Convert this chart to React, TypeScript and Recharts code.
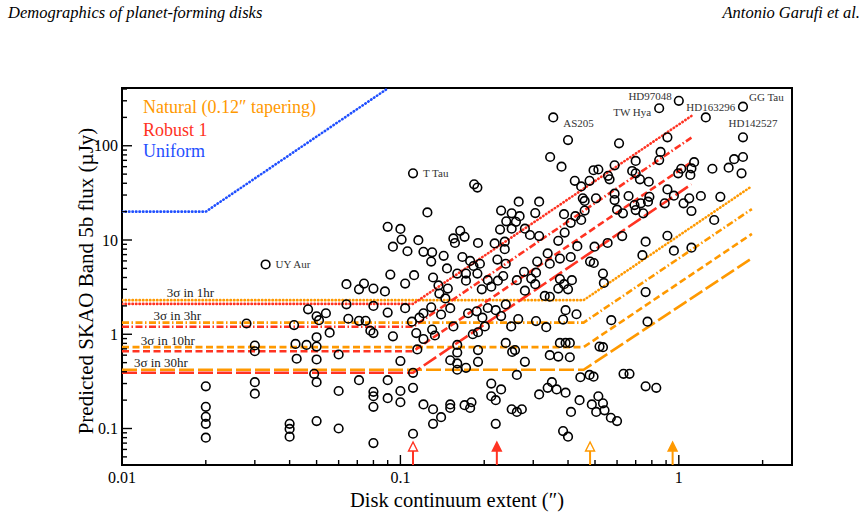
import React from "react";
import { ReferenceArea, ReferenceDot, Scatter, ScatterChart, XAxis, YAxis } from "recharts";

const serif = '"Liberation Serif", "DejaVu Serif", serif';
const orange = "#ff9900";
const red = "#ff3322";
const blue = "#1f4fff";

const xDomain: [number, number] = [0.01, 2.55];
const yDomain: [number, number] = [0.041, 410];
const xMajor = [0.01, 0.1, 1];
const xMinor = [0.02, 0.03, 0.04, 0.05, 0.06, 0.07, 0.08, 0.09, 0.2, 0.3, 0.4, 0.5, 0.6, 0.7, 0.8, 0.9, 2];
const yMajor = [0.1, 1, 10, 100];
const yMinor = [
  0.05, 0.06, 0.07, 0.08, 0.09, 0.2, 0.3, 0.4, 0.5, 0.6, 0.7, 0.8, 0.9,
  2, 3, 4, 5, 6, 7, 8, 9, 20, 30, 40, 50, 60, 70, 80, 90, 200, 300, 400,
];

// [continuum extent (arcsec), predicted flux (µJy)]
const disks: [number, number][] = [
  [0.02, 0.28], [0.02, 0.17], [0.02, 0.133], [0.02, 0.112], [0.02, 0.08],
  [0.028, 1.3], [0.03, 0.76], [0.03, 0.66], [0.03, 0.31], [0.03, 0.234],
  [0.04, 0.112], [0.04, 0.099], [0.04, 0.082], [0.0415, 1.25], [0.042, 0.79], [0.0424, 0.55],
  [0.046, 0.77], [0.0466, 1.84], [0.05, 1.55], [0.051, 1.41], [0.05, 0.93], [0.05, 0.74],
  [0.05, 0.54], [0.049, 0.38], [0.05, 0.31], [0.05, 0.12],
  [0.054, 1.67], [0.0557, 1.04], [0.06, 0.61], [0.06, 0.25], [0.06, 0.1],
  [0.064, 3.4], [0.064, 2.08], [0.065, 1.46], [0.071, 3.0], [0.071, 1.39], [0.071, 0.326],
  [0.074, 3.45], [0.075, 1.39], [0.078, 1.09], [0.08, 1.03], [0.08, 3.05], [0.08, 2.0],
  [0.08, 0.245], [0.08, 0.22], [0.08, 0.17], [0.08, 0.07],
  [0.088, 2.85], [0.09, 13.8], [0.092, 4.3], [0.09, 1.7], [0.09, 0.326], [0.09, 0.21],
  [0.094, 8.5], [0.094, 0.95], [0.1, 13.1], [0.101, 10.1], [0.1, 0.52], [0.1, 0.25], [0.1, 0.19],
  [0.104, 1.89], [0.104, 3.45], [0.106, 7.6], [0.112, 4.24], [0.116, 9.97],
  [0.111, 0.39], [0.111, 0.27], [0.111, 0.088], [0.11, 1.36], [0.114, 1.03], [0.115, 0.69],
  [0.117, 1.5], [0.121, 1.67], [0.121, 0.89], [0.121, 0.18], [0.121, 7.5], [0.125, 19.6],
  [0.13, 7.4], [0.129, 5.9], [0.131, 4.0], [0.137, 3.3], [0.129, 1.93], [0.13, 1.12], [0.133, 0.97],
  [0.131, 0.16], [0.131, 0.112], [0.14, 0.132], [0.138, 2.7],
  [0.184, 39], [0.189, 36], [0.266, 25.5], [0.315, 25.5], [0.23, 20.5], [0.251, 19.2],
  [0.268, 17.9], [0.305, 19.3], [0.24, 15.8], [0.26, 15.6], [0.228, 12.9], [0.251, 13.2],
  [0.28, 13.2], [0.292, 11.3], [0.315, 11.0], [0.164, 12.5], [0.155, 10.4], [0.17, 10.8],
  [0.157, 9.3], [0.19, 9.3], [0.218, 9.2], [0.237, 9.6], [0.237, 8.0],
  [0.143, 6.8], [0.167, 6.6], [0.147, 5.0], [0.178, 6.0], [0.183, 5.3], [0.193, 5.6],
  [0.223, 6.2], [0.239, 5.6], [0.16, 4.4], [0.172, 4.4], [0.189, 4.4], [0.172, 3.7],
  [0.206, 3.75], [0.234, 4.15], [0.262, 3.75], [0.278, 4.6], [0.295, 3.9], [0.305, 3.4],
  [0.31, 5.9], [0.148, 3.05], [0.196, 3.0], [0.212, 3.2], [0.224, 3.7], [0.28, 2.9],
  [0.145, 2.4], [0.151, 1.89], [0.14, 1.62], [0.155, 1.21], [0.175, 1.67], [0.188, 1.75],
  [0.197, 1.5], [0.206, 1.9], [0.22, 1.8], [0.239, 2.07], [0.23, 1.56], [0.201, 1.21],
  [0.182, 1.0], [0.19, 1.05], [0.25, 1.21], [0.265, 1.45], [0.307, 1.38],
  [0.16, 0.77], [0.16, 0.64], [0.151, 0.53], [0.16, 0.49], [0.16, 0.42], [0.172, 0.44],
  [0.19, 0.68], [0.19, 0.51], [0.239, 0.81], [0.252, 0.65], [0.258, 0.68], [0.28, 0.51],
  [0.262, 0.37], [0.212, 0.3], [0.23, 0.26], [0.212, 0.22], [0.22, 0.2],
  [0.151, 0.18], [0.151, 0.165], [0.17, 0.177], [0.18, 0.19], [0.178, 0.165],
  [0.251, 0.16], [0.262, 0.15], [0.273, 0.16], [0.22, 0.112], [0.315, 0.23],
  [0.4, 115], [0.61, 106], [0.345, 76], [0.379, 60], [0.494, 55], [0.514, 56], [0.588, 62],
  [0.7, 69], [0.68, 54], [0.557, 48], [0.423, 42.5], [0.478, 42.5], [0.564, 44], [0.7, 51],
  [0.725, 44], [0.446, 37], [0.452, 27.7], [0.459, 26], [0.504, 27.7], [0.588, 31],
  [0.66, 29.3], [0.588, 26.5], [0.693, 23.5], [0.73, 24.5], [0.387, 18.8], [0.425, 17.9],
  [0.459, 20.5], [0.446, 16.3], [0.409, 15.2], [0.63, 19.2], [0.6, 21], [0.7, 20.8], [0.745, 19.2],
  [0.389, 12], [0.369, 9.8], [0.626, 11], [0.555, 9.3], [0.432, 8.6], [0.498, 8.5], [0.74, 6.9],
  [0.338, 7.2], [0.374, 6.35], [0.409, 6.6], [0.344, 5.6], [0.48, 5.9], [0.495, 5.7],
  [0.307, 4.5], [0.374, 3.85], [0.413, 3.75], [0.387, 3.4], [0.534, 4.4], [0.538, 3.5],
  [0.4, 3.0], [0.369, 3.05], [0.33, 2.55], [0.344, 2.5], [0.76, 2.8],
  [0.392, 1.8], [0.384, 1.43], [0.429, 1.63], [0.334, 1.19], [0.572, 1.41], [0.772, 1.36],
  [0.374, 0.81], [0.392, 0.81], [0.406, 0.81], [0.344, 0.6], [0.369, 0.58], [0.406, 0.57],
  [0.519, 0.74], [0.534, 0.73], [0.443, 0.35], [0.478, 0.37], [0.494, 0.355], [0.633, 0.38],
  [0.665, 0.38], [0.76, 0.28], [0.83, 0.27], [0.35, 0.31], [0.338, 0.27], [0.364, 0.26],
  [0.392, 0.24], [0.44, 0.2], [0.514, 0.22], [0.487, 0.18], [0.534, 0.185], [0.505, 0.15],
  [0.541, 0.156], [0.57, 0.13], [0.6, 0.12], [0.41, 0.15], [0.384, 0.094], [0.4, 0.082],
  [0.91, 123], [0.86, 86], [0.85, 70.5], [1.135, 67], [1.02, 57], [1.11, 57.5], [0.995, 51],
  [1.1, 49], [1.32, 57], [1.51, 58.5], [1.58, 72], [1.7, 76], [1.68, 51],
  [0.78, 41.5], [0.91, 34.4], [0.784, 28.7], [0.775, 25.5], [0.89, 24.5], [0.96, 29.5],
  [1.09, 27.7], [1.04, 24.5], [1.11, 20.3], [1.2, 29.3], [1.41, 28.7], [1.34, 16.3],
  [0.91, 11.1], [0.76, 9.6], [0.96, 7.7], [1.11, 8.3],
];

const namedDisks = [
  { name: "UY Aur", x: 0.0328, y: 5.5 },
  { name: "T Tau", x: 0.111, y: 51 },
  { name: "AS205", x: 0.354, y: 200 },
  { name: "TW Hya", x: 0.85, y: 250 },
  { name: "HD97048", x: 1.0, y: 300 },
  { name: "HD163296", x: 1.25, y: 200 },
  { name: "GG Tau", x: 1.7, y: 260 },
  { name: "HD142527", x: 1.7, y: 123 },
];

// 3-sigma floors for 1, 3, 10 and 30 hr, flat up to the beam and rising beyond it
const integrations = ["3σ in 1hr", "3σ in 3hr", "3σ in 10hr", "3σ in 30hr"];
const robustFloor = [2.1, 1.2, 0.66, 0.39];
const robustKnee = 0.111;
const robustEndX = 1.11;
const robustEndY = [207, 122, 67, 39];
const naturalFloor = [2.3, 1.33, 0.73, 0.42];
const naturalKnee = 0.455;
const naturalEndX = 1.83;
const naturalEndY = [37.3, 21.3, 11.6, 6.4];
const uniformCurve = [
  { x: 0.01, y: 20 },
  { x: 0.02, y: 20 },
  { x: 0.0905, y: 410 },
];
const integrationLabels = [
  { x: 0.0176, y: 2.8 },
  { x: 0.0158, y: 1.6 },
  { x: 0.0146, y: 0.865 },
  { x: 0.0138, y: 0.505 },
];

// beam size markers on the extent axis
const robustBeams = [0.111, 0.222];
const naturalBeams = [0.48, 0.95];

// dotted, dash-dotted, dashed, long-dashed
const dashes = ["0.4 3.1", "7 2.5 1.5 2.5", "7 3.5", "15 4"];
const caps = ["round", "butt", "butt", "butt"] as const;

const labelPlace: Record<string, { dx: number; dy: number; anchor: "start" | "middle" | "end" }> = {
  "UY Aur": { dx: 10, dy: 4, anchor: "start" },
  "T Tau": { dx: 10, dy: 4, anchor: "start" },
  AS205: { dx: 10, dy: 10, anchor: "start" },
  "TW Hya": { dx: -8, dy: 8, anchor: "end" },
  HD97048: { dx: -7, dy: -1, anchor: "end" },
  HD163296: { dx: 5, dy: -6, anchor: "middle" },
  "GG Tau": { dx: 6, dy: -6, anchor: "start" },
  HD142527: { dx: 10, dy: -10, anchor: "middle" },
};

const curve = (floor: number, knee: number, endX: number, endY: number) => [
  { x: xDomain[0], y: floor },
  { x: knee, y: floor },
  { x: endX, y: endY },
];
const robustCurves = robustFloor.map((f, i) => curve(f, robustKnee, robustEndX, robustEndY[i]));
const naturalCurves = naturalFloor.map((f, i) => curve(f, naturalKnee, naturalEndX, naturalEndY[i]));

const fmt = (v: number) => String(v);

const XTick = (p: any) => {
  const v = p.payload.value;
  const major = xMajor.includes(v);
  return (
    <g>
      <line x1={p.x} x2={p.x} y1={p.y} y2={p.y - (major ? 10 : 5)} stroke="#000" strokeWidth={1.4} />
      {major && (
        <text x={p.x} y={p.y + 18} textAnchor="middle" fontSize={16} fontFamily={serif} fill="#000">
          {fmt(v)}
        </text>
      )}
    </g>
  );
};

const YTick = (p: any) => {
  const v = p.payload.value;
  const major = yMajor.includes(v);
  return (
    <g>
      <line x1={p.x} x2={p.x + (major ? 10 : 5)} y1={p.y} y2={p.y} stroke="#000" strokeWidth={1.4} />
      {major && (
        <text x={p.x - 4} y={p.y + 5.5} textAnchor="end" fontSize={16} fontFamily={serif} fill="#000">
          {fmt(v)}
        </text>
      )}
    </g>
  );
};

const Ring = (p: any) => (
  <circle cx={p.cx} cy={p.cy} r={4.3} fill="none" stroke="#000" strokeWidth={1.6} />
);

const NamedRing = (p: any) => {
  const place = labelPlace[p.payload.name];
  return (
    <g>
      <circle cx={p.cx} cy={p.cy} r={4.3} fill="none" stroke="#000" strokeWidth={1.6} />
      <text
        x={p.cx + place.dx}
        y={p.cy + place.dy}
        textAnchor={place.anchor}
        fontSize={11}
        fontFamily={serif}
        fill="#333"
      >
        {p.payload.name}
      </text>
    </g>
  );
};

const arrowShape = (color: string, open: boolean) => (p: any) => (
  <g>
    <line x1={p.cx} x2={p.cx} y1={p.cy} y2={p.cy - 15} stroke={color} strokeWidth={2} />
    <polygon
      points={`${p.cx - 4.5},${p.cy - 14} ${p.cx + 4.5},${p.cy - 14} ${p.cx},${p.cy - 23}`}
      fill={open ? "#fff" : color}
      stroke={color}
      strokeWidth={1.4}
    />
  </g>
);

const noDot = () => <g />;

export default function App() {
  const ringData = disks.map(([x, y]) => ({ x, y }));
  return (
    <div style={{ position: "absolute", left: 0, top: 0, width: 868, height: 514, background: "#fff" }}>
      <ScatterChart width={868} height={514} margin={{ top: 88, right: 76, bottom: 19, left: 62 }}>
        <XAxis
          type="number"
          dataKey="x"
          scale="log"
          domain={xDomain}
          allowDataOverflow
          ticks={[...xMajor, ...xMinor]}
          interval={0}
          tick={XTick}
          tickSize={0}
          tickMargin={0}
          tickLine={false}
          axisLine={false}
          height={30}
        />
        <YAxis
          type="number"
          dataKey="y"
          scale="log"
          domain={yDomain}
          allowDataOverflow
          ticks={[...yMajor, ...yMinor]}
          interval={0}
          tick={YTick}
          tickSize={0}
          tickMargin={0}
          tickLine={false}
          axisLine={false}
          width={60}
        />
        <ReferenceArea
          x1={xDomain[0]}
          x2={xDomain[1]}
          y1={yDomain[0]}
          y2={yDomain[1]}
          fill="none"
          stroke="#000"
          strokeWidth={2}
          fillOpacity={0}
        />
        {integrationLabels.map((p, i) => (
          <ReferenceDot
            key={integrations[i]}
            x={p.x}
            y={p.y}
            r={0}
            stroke="none"
            label={{ value: integrations[i], position: "center", fontSize: 13, fill: "#222", fontFamily: serif }}
          />
        ))}
        <Scatter
          data={uniformCurve}
          line={{ stroke: blue, strokeWidth: 2.6, strokeDasharray: dashes[0], strokeLinecap: "round" }}
          lineType="joint"
          shape={noDot}
          isAnimationActive={false}
        />
        {naturalCurves.map((pts, i) => (
          <Scatter
            key={`n${i}`}
            data={pts}
            line={{ stroke: orange, strokeWidth: 2.6, strokeDasharray: dashes[i], strokeLinecap: caps[i] }}
            lineType="joint"
            shape={noDot}
            isAnimationActive={false}
          />
        ))}
        {robustCurves.map((pts, i) => (
          <Scatter
            key={`r${i}`}
            data={pts}
            line={{ stroke: red, strokeWidth: 2.6, strokeDasharray: dashes[i], strokeLinecap: caps[i] }}
            lineType="joint"
            shape={noDot}
            isAnimationActive={false}
          />
        ))}
        <Scatter data={ringData} shape={Ring} isAnimationActive={false} />
        <Scatter data={namedDisks} shape={NamedRing} isAnimationActive={false} />
        <Scatter
          data={[{ x: robustBeams[0], y: yDomain[0] }]}
          shape={arrowShape(red, true)}
          isAnimationActive={false}
        />
        <Scatter
          data={[{ x: robustBeams[1], y: yDomain[0] }]}
          shape={arrowShape(red, false)}
          isAnimationActive={false}
        />
        <Scatter
          data={[{ x: naturalBeams[0], y: yDomain[0] }]}
          shape={arrowShape(orange, true)}
          isAnimationActive={false}
        />
        <Scatter
          data={[{ x: naturalBeams[1], y: yDomain[0] }]}
          shape={arrowShape(orange, false)}
          isAnimationActive={false}
        />
      </ScatterChart>
      <svg
        width={868}
        height={514}
        style={{ position: "absolute", left: 0, top: 0, pointerEvents: "none" }}
        fontFamily={serif}
      >
        <text x={8} y={18} fontSize={16.5} fontStyle="italic" fill="#000">
          Demographics of planet-forming disks
        </text>
        <text x={860} y={18} fontSize={16.5} fontStyle="italic" textAnchor="end" fill="#000">
          Antonio Garufi et al.
        </text>
        <text x={143} y={113} fontSize={18} fill={orange}>
          Natural (0.12″ tapering)
        </text>
        <text x={143} y={136} fontSize={18} fill={red}>
          Robust 1
        </text>
        <text x={143} y={157} fontSize={18} fill={blue}>
          Uniform
        </text>
        <text x={457} y={507} fontSize={20.5} textAnchor="middle" fill="#000">
          Disk continuum extent (″)
        </text>
        <text
          x={0}
          y={0}
          fontSize={21}
          textAnchor="middle"
          fill="#000"
          transform="translate(93 281) rotate(-90)"
        >
          Predicted SKAO Band 5b flux (µJy)
        </text>
      </svg>
    </div>
  );
}
